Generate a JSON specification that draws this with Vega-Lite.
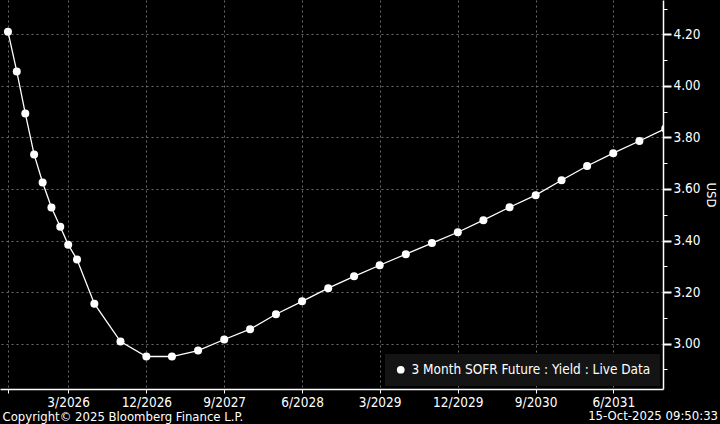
{
  "$schema": "https://vega.github.io/schema/vega-lite/v6.json",
  "width": 663,
  "height": 389,
  "autosize": {"type": "none"},
  "padding": {"left": 0, "top": 0, "right": 57, "bottom": 35},
  "background": "black",
  "config": {
    "view": {"stroke": null},
    "font": "DejaVu Sans Condensed, sans-serif"
  },
  "title": {
    "text": "15-Oct-2025 09:50:33",
    "orient": "bottom",
    "anchor": "end",
    "frame": "bounds",
    "color": "white",
    "fontSize": 13,
    "fontWeight": "normal",
    "offset": 0,
    "dy": -13,
    "dx": 2
  },
  "data": {
    "values": [
      {"date": "2025-08-01T00:00", "yield": 4.210, "series": "3 Month SOFR Future : Yield : Live Data"},
      {"date": "2025-09-01T00:00", "yield": 4.056, "series": "3 Month SOFR Future : Yield : Live Data"},
      {"date": "2025-10-01T00:00", "yield": 3.893, "series": "3 Month SOFR Future : Yield : Live Data"},
      {"date": "2025-11-01T00:00", "yield": 3.734, "series": "3 Month SOFR Future : Yield : Live Data"},
      {"date": "2025-12-01T00:00", "yield": 3.625, "series": "3 Month SOFR Future : Yield : Live Data"},
      {"date": "2026-01-01T00:00", "yield": 3.528, "series": "3 Month SOFR Future : Yield : Live Data"},
      {"date": "2026-02-01T00:00", "yield": 3.453, "series": "3 Month SOFR Future : Yield : Live Data"},
      {"date": "2026-03-01T00:00", "yield": 3.384, "series": "3 Month SOFR Future : Yield : Live Data"},
      {"date": "2026-04-01T00:00", "yield": 3.326, "series": "3 Month SOFR Future : Yield : Live Data"},
      {"date": "2026-06-01T00:00", "yield": 3.155, "series": "3 Month SOFR Future : Yield : Live Data"},
      {"date": "2026-09-01T00:00", "yield": 3.008, "series": "3 Month SOFR Future : Yield : Live Data"},
      {"date": "2026-12-01T00:00", "yield": 2.950, "series": "3 Month SOFR Future : Yield : Live Data"},
      {"date": "2027-03-01T00:00", "yield": 2.950, "series": "3 Month SOFR Future : Yield : Live Data"},
      {"date": "2027-06-01T00:00", "yield": 2.973, "series": "3 Month SOFR Future : Yield : Live Data"},
      {"date": "2027-09-01T00:00", "yield": 3.016, "series": "3 Month SOFR Future : Yield : Live Data"},
      {"date": "2027-12-01T00:00", "yield": 3.056, "series": "3 Month SOFR Future : Yield : Live Data"},
      {"date": "2028-03-01T00:00", "yield": 3.114, "series": "3 Month SOFR Future : Yield : Live Data"},
      {"date": "2028-06-01T00:00", "yield": 3.164, "series": "3 Month SOFR Future : Yield : Live Data"},
      {"date": "2028-09-01T00:00", "yield": 3.215, "series": "3 Month SOFR Future : Yield : Live Data"},
      {"date": "2028-12-01T00:00", "yield": 3.261, "series": "3 Month SOFR Future : Yield : Live Data"},
      {"date": "2029-03-01T00:00", "yield": 3.304, "series": "3 Month SOFR Future : Yield : Live Data"},
      {"date": "2029-06-01T00:00", "yield": 3.347, "series": "3 Month SOFR Future : Yield : Live Data"},
      {"date": "2029-09-01T00:00", "yield": 3.390, "series": "3 Month SOFR Future : Yield : Live Data"},
      {"date": "2029-12-01T00:00", "yield": 3.432, "series": "3 Month SOFR Future : Yield : Live Data"},
      {"date": "2030-03-01T00:00", "yield": 3.479, "series": "3 Month SOFR Future : Yield : Live Data"},
      {"date": "2030-06-01T00:00", "yield": 3.529, "series": "3 Month SOFR Future : Yield : Live Data"},
      {"date": "2030-09-01T00:00", "yield": 3.576, "series": "3 Month SOFR Future : Yield : Live Data"},
      {"date": "2030-12-01T00:00", "yield": 3.634, "series": "3 Month SOFR Future : Yield : Live Data"},
      {"date": "2031-03-01T00:00", "yield": 3.689, "series": "3 Month SOFR Future : Yield : Live Data"},
      {"date": "2031-06-01T00:00", "yield": 3.739, "series": "3 Month SOFR Future : Yield : Live Data"},
      {"date": "2031-09-01T00:00", "yield": 3.786, "series": "3 Month SOFR Future : Yield : Live Data"},
      {"date": "2031-12-01T00:00", "yield": 3.834, "series": "3 Month SOFR Future : Yield : Live Data"}
    ]
  },
  "encoding": {
    "x": {
      "field": "date",
      "type": "temporal",
      "scale": {"domain": [{"year": 2025, "month": 7, "date": 4}, {"year": 2031, "month": 11, "date": 23}]},
      "axis": {
        "values": [
          {"year": 2025, "month": 8, "date": 1},
          {"year": 2026, "month": 3, "date": 1},
          {"year": 2026, "month": 12, "date": 1},
          {"year": 2027, "month": 9, "date": 1},
          {"year": 2028, "month": 6, "date": 1},
          {"year": 2029, "month": 3, "date": 1},
          {"year": 2029, "month": 12, "date": 1},
          {"year": 2030, "month": 9, "date": 1},
          {"year": 2031, "month": 6, "date": 1}
        ],
        "labelExpr": "year(datum.value) == 2025 ? '' : timeFormat(datum.value, '%-m/%Y')",
        "labelColor": "white",
        "labelFontSize": 13.5,
        "labelPadding": 2,
        "labelFlush": false,
        "domainColor": "white",
        "domainWidth": 1.5,
        "tickColor": "white",
        "tickSize": 4,
        "grid": true,
        "gridColor": "#6a6a6a",
        "gridDash": [2, 3],
        "title": "Copyright© 2025 Bloomberg Finance L.P.",
        "titleColor": "white",
        "titleFontSize": 13,
        "titleFontWeight": "normal",
        "titleAnchor": "start",
        "titleAlign": "left",
        "titleBaseline": "alphabetic",
        "titleX": 2,
        "titleY": 31
      }
    },
    "y": {
      "field": "yield",
      "type": "quantitative",
      "scale": {"domain": [2.824, 4.333], "nice": false, "zero": false},
      "axis": {
        "orient": "right",
        "values": [2.9, 3.0, 3.1, 3.2, 3.3, 3.4, 3.5, 3.6, 3.7, 3.8, 3.9, 4.0, 4.1, 4.2, 4.3],
        "labelExpr": "round(datum.value * 10) % 2 == 0 ? format(datum.value, '.2f') : ''",
        "labelColor": "white",
        "labelFontSize": 13.5,
        "labelPadding": 2,
        "labelFlush": false,
        "domainColor": "white",
        "domainWidth": 1.5,
        "tickColor": "white",
        "tickSize": {"condition": {"test": "round(datum.value * 10) % 2 == 0", "value": 8}, "value": 4},
        "tickWidth": {"condition": {"test": "round(datum.value * 10) % 2 == 0", "value": 2}, "value": 1},
        "grid": true,
        "gridColor": "#6a6a6a",
        "gridDash": [2, 3],
        "gridOpacity": {"condition": {"test": "round(datum.value * 10) % 2 == 0", "value": 1}, "value": 0},
        "title": "USD",
        "titleColor": "white",
        "titleFontSize": 13,
        "titleFontWeight": "normal",
        "titlePadding": 3
      }
    }
  },
  "layer": [
    {
      "mark": {"type": "line", "color": "white", "strokeWidth": 1.3, "clip": true}
    },
    {
      "mark": {"type": "point", "filled": true, "opacity": 1, "size": 64, "clip": true},
      "encoding": {
        "color": {
          "field": "series",
          "type": "nominal",
          "scale": {"range": ["white"]},
          "legend": {
            "title": null,
            "orient": "bottom-right",
            "offset": 3,
            "fillColor": "#141414",
            "padding": 9,
            "labelColor": "white",
            "labelFontSize": 13.5,
            "labelLimit": 400,
            "symbolType": "circle",
            "symbolSize": 60,
            "symbolFillColor": "white",
            "symbolStrokeWidth": 0
          }
        }
      }
    }
  ]
}
